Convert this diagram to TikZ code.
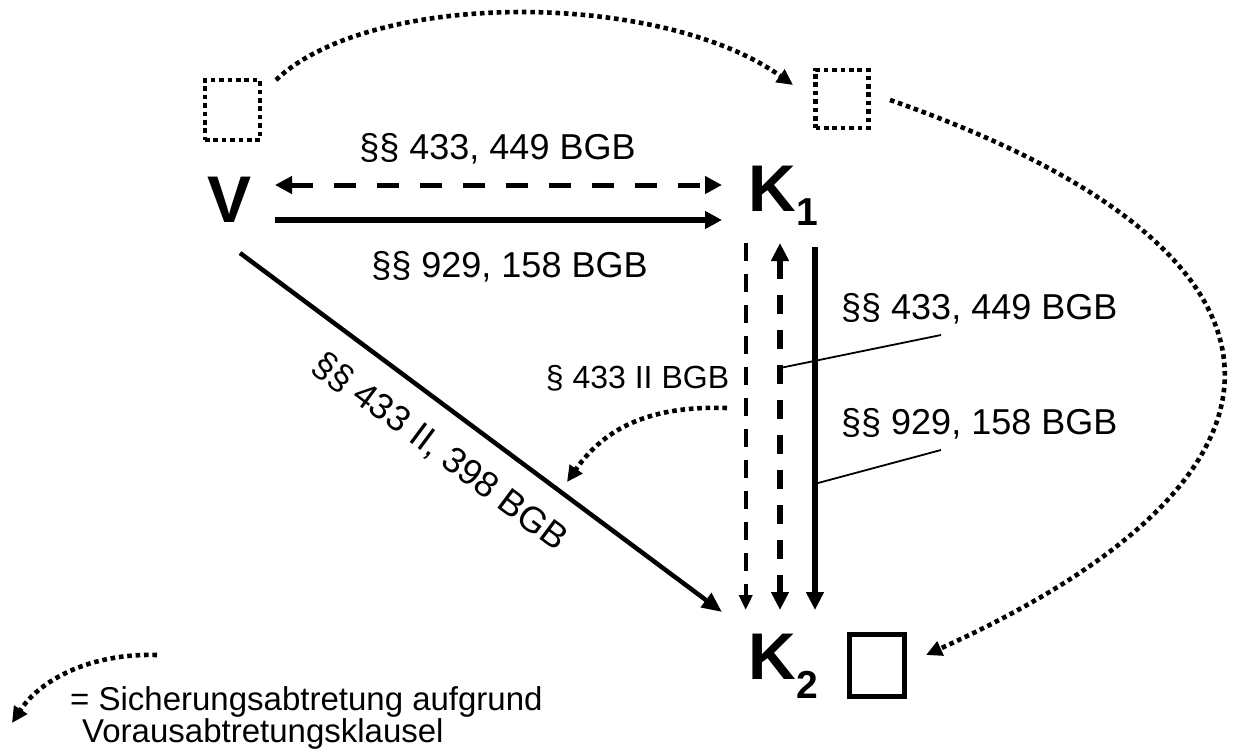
\documentclass[tikz,border=0pt]{standalone}
\usepackage{fontspec}
\setmainfont{Liberation Sans}
\usetikzlibrary{arrows.meta}
\begin{document}
\begin{tikzpicture}[x=1pt,y=-1pt,
  lbl/.style={inner sep=0pt, font=\fontsize{36}{40}\selectfont},
  big/.style={inner sep=0pt, font=\fontsize{66}{66}\selectfont\bfseries},
  dotline/.style={line width=4.6pt, dash pattern=on 4.6pt off 3.8pt},
  tipS/.style={-{Triangle[length=16pt,width=15pt]}},
  thickdash/.style={line width=5pt, dash pattern=on 22pt off 21pt},
  leader/.style={line width=1.8pt}]
\useasboundingbox (0,0) rectangle (1237,753);

% main letters
\node[big, anchor=base] (V) at (230,222) {V};
\node[big, anchor=base west] (K1) at (748,211) {K\kern1pt\raisebox{-14pt}{\fontsize{39}{39}\selectfont\bfseries 1}};
\node[big, anchor=base west] (K2) at (748,679) {K\kern1pt\raisebox{-19pt}{\fontsize{39}{39}\selectfont\bfseries 2}};

% boxes
\node[draw, dotline, minimum width=55pt, minimum height=60pt, inner sep=0pt] (bV) at (232.5,110) {};
\node[draw, dotline, minimum width=53pt, minimum height=58pt, inner sep=0pt] (bK1) at (842,99) {};
\node[draw, line width=5pt, minimum width=55pt, minimum height=62pt, inner sep=0pt] (bK2) at (876.5,665.5) {};

% coordinates for connector ends
\coordinate (Va) at (275,185);
\coordinate (Ka) at (722,185);
\coordinate (Vb) at (275,220);
\coordinate (Kb) at (722,220);
\coordinate (Vc) at (240,253);
\coordinate (Kc) at (722,612);
\coordinate (K1d) at (745.7,243);
\coordinate (K2d) at (745.7,610);
\coordinate (K1e) at (780,243);
\coordinate (K2e) at (780,610);
\coordinate (K1f) at (815,247);
\coordinate (K2f) at (815,610);

% horizontal arrows
\draw[thickdash, {Triangle[length=17pt,width=17pt]}-{Triangle[length=17pt,width=17pt]}, dash phase=0pt] (Va) -- (Ka);
\draw[line width=5.5pt, -{Triangle[length=17pt,width=17pt]}] (Vb) -- (Kb);

% diagonal
\draw[line width=4.5pt, -{Triangle[length=20pt,width=17pt]}] (Vc) -- (Kc);

% verticals
\draw[line width=4pt, dash pattern=on 18pt off 13pt, -{Triangle[length=15pt,width=13pt]}] (K1d) -- (K2d);
\draw[line width=6.5pt, dash pattern=on 19pt off 16pt, {Triangle[length=18pt,width=17pt]}-{Triangle[length=18pt,width=17pt]}] (K1e) -- (K2e);
\draw[line width=6pt, -{Triangle[length=18pt,width=17pt]}] (K1f) -- (K2f);

% labels
\node[lbl, anchor=base] (l1) at (497.5,159) {§§ 433, 449 BGB};
\node[lbl, anchor=base] (l2) at (509.5,277) {§§ 929, 158 BGB};
\node[lbl, anchor=base west] (l3) at (841,319) {§§ 433, 449 BGB};
\node[lbl, anchor=base west] (l4) at (841,434) {§§ 929, 158 BGB};
\node[lbl, anchor=base, font=\fontsize{32}{36}\selectfont] (l5) at (637.5,388) {§ 433 II BGB};
\node[lbl, rotate=-36.7] (l6) at (440,452) {§§ 433 II, 398 BGB};

% leader lines
\coordinate (L1) at (941,335);
\coordinate (L2) at (941,450);
\coordinate (P1) at (780,368);
\coordinate (P2) at (818,483);
\draw[leader] (P1) -- (L1);
\draw[leader] (P2) -- (L2);

% dotted curves
\draw[dotline, tipS] (276,80) .. controls (370,-10) and (660,-10) .. (793,85);
\draw[dotline, tipS] (890,100) .. controls (1320,250) and (1335,470) .. (926,655);
\draw[dotline, tipS] (727,408) .. controls (640,405) and (600,435) .. (567,482);
\draw[dotline, tipS] (157,655) .. controls (90,653) and (40,680) .. (12,723);

% legend
\node[lbl, anchor=base west, font=\fontsize{33}{38}\selectfont] (g1) at (70,710) {= Sicherungsabtretung aufgrund};
\node[lbl, anchor=base west, font=\fontsize{33}{38}\selectfont] (g2) at (82,742) {Vorausabtretungsklausel};
\end{tikzpicture}
\end{document}
